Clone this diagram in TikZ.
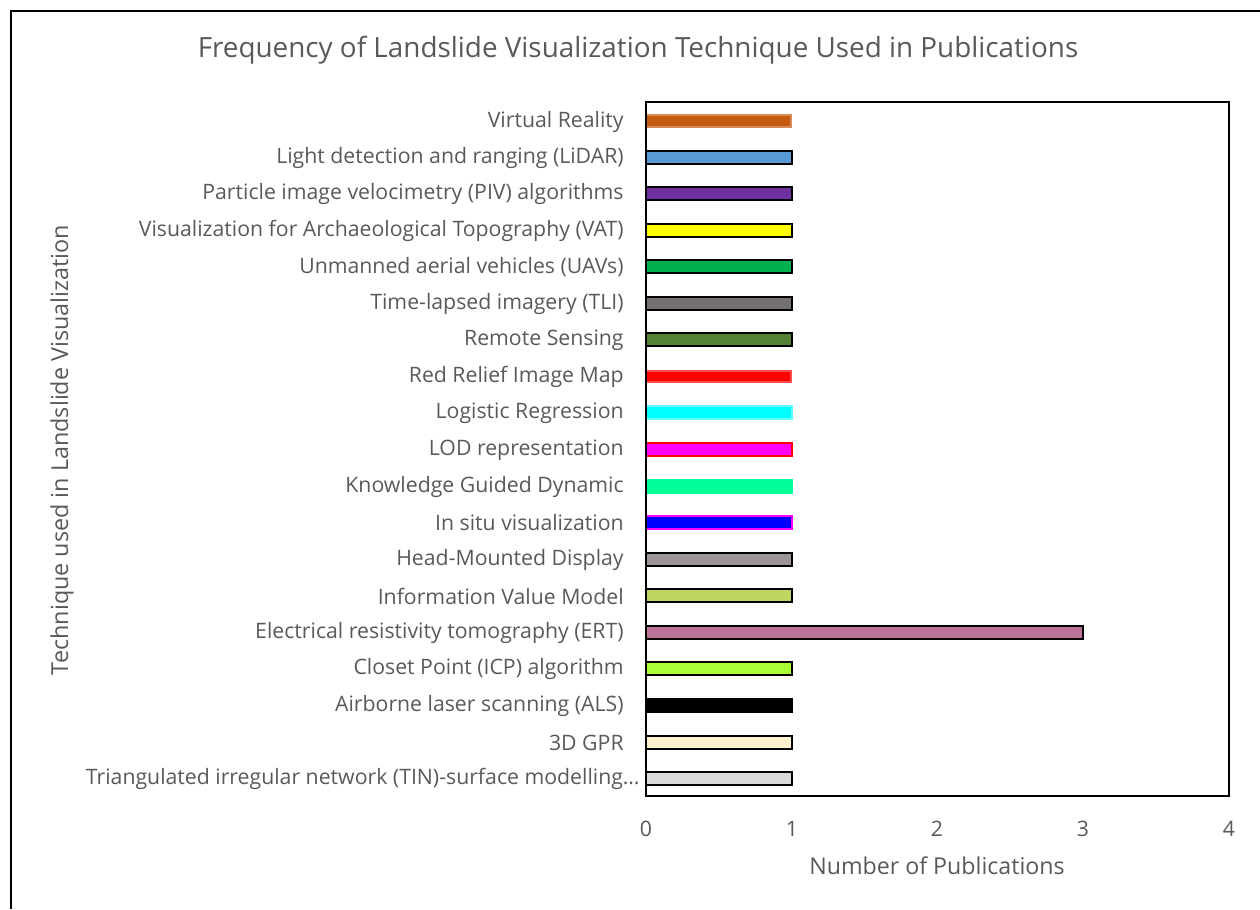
\documentclass[tikz,border=0pt]{standalone}
\usepackage{fontspec}
\setmainfont{Open Sans}
\usepackage{xcolor}
\usepackage{tikz}

\definecolor{txtgray}{HTML}{595959}
\definecolor{vrorange}{HTML}{C55A11}
\definecolor{lidarblue}{HTML}{5B9BD5}
\definecolor{pivpurple}{HTML}{7030A0}
\definecolor{vatyellow}{HTML}{FFFF00}
\definecolor{uavgreen}{HTML}{00B050}
\definecolor{tligray}{HTML}{767171}
\definecolor{rsgreen}{HTML}{548235}
\definecolor{rrimred}{HTML}{FF0000}
\definecolor{lrcyan}{HTML}{00FFFF}
\definecolor{lodmagenta}{HTML}{FF00FF}
\definecolor{kgdgreen}{HTML}{00FF99}
\definecolor{insitublue}{HTML}{0000FF}
\definecolor{hmdgray}{HTML}{9E9696}
\definecolor{ivmgreen}{HTML}{BED760}
\definecolor{ertpink}{HTML}{BC7399}
\definecolor{icplime}{HTML}{A8FF35}
\definecolor{gprcream}{HTML}{FFF2CC}
\definecolor{tingray}{HTML}{D9D9D9}

\begin{document}
\begin{tikzpicture}[x={(0.02cm,0)}, y={(0,-0.02cm)},
		lab/.style={anchor=east, text=txtgray, font=\fontsize{12.1}{14}\selectfont, inner sep=0pt},
		tick/.style={text=txtgray, font=\fontsize{12.1}{14}\selectfont, inner sep=0pt},
		bar/.style={line width=1.1pt}]
		\useasboundingbox (0,0) rectangle (1260,909);
		% outer frame, cut at the right and bottom
		\draw[line width=1.1pt] (11,909) -- (11,11) -- (1260,11);
		\node[text=txtgray, font=\fontsize{15.85}{19}\selectfont] (title) at (638,50) {Frequency of Landslide Visualization Technique Used in Publications};
		
		% bars, top to bottom
		\node[lab] (vr) at (624,122) {Virtual Reality};
		\filldraw[bar, fill=vrorange, draw=vrorange!70] (646,115) rectangle (791,127);
		\node[lab] (lidar) at (624,158) {Light detection and ranging (LiDAR)};
		\filldraw[bar, fill=lidarblue] (646,151) rectangle (792,164);
		\node[lab] (piv) at (624,194) {Particle image velocimetry (PIV) algorithms};
		\filldraw[bar, fill=pivpurple] (646,187) rectangle (792,200);
		\node[lab] (vat) at (624,231) {Visualization for Archaeological Topography (VAT)};
		\filldraw[bar, fill=vatyellow] (646,224) rectangle (792,237);
		\node[lab] (uav) at (624,267) {Unmanned aerial vehicles (UAVs)};
		\filldraw[bar, fill=uavgreen] (646,260) rectangle (792,273);
		\node[lab] (tli) at (624,304) {Time-lapsed imagery (TLI)};
		\filldraw[bar, fill=tligray] (646,297) rectangle (792,310);
		\node[lab] (rs) at (624,340) {Remote Sensing};
		\filldraw[bar, fill=rsgreen] (646,333) rectangle (792,346);
		\node[lab] (rrim) at (624,377) {Red Relief Image Map};
		\filldraw[bar, fill=rrimred, draw=rrimred!70] (646,371) rectangle (791,382);
		\node[lab] (lr) at (624,413) {Logistic Regression};
		\filldraw[bar, fill=lrcyan, draw=lrcyan!60] (646,406) rectangle (792,419);
		\node[lab] (lod) at (624,450) {LOD representation};
		\filldraw[bar, fill=lodmagenta, draw=rrimred] (646,443) rectangle (792,456);
		\node[lab] (kgd) at (624,487) {Knowledge Guided Dynamic};
		\filldraw[bar, fill=kgdgreen, draw=kgdgreen] (646,480) rectangle (792,493);
		\node[lab] (insitu) at (624,523) {In situ visualization};
		\filldraw[bar, fill=insitublue, draw=lodmagenta] (646,516) rectangle (792,529);
		\node[lab] (hmd) at (624,560) {Head-Mounted Display};
		\filldraw[bar, fill=hmdgray] (646,553) rectangle (792,566);
		\node[lab] (ivm) at (624,596) {Information Value Model};
		\filldraw[bar, fill=ivmgreen] (646,589) rectangle (792,602);
		\node[lab] (ert) at (624,633) {Electrical resistivity tomography (ERT)};
		\filldraw[bar, fill=ertpink] (646,626) rectangle (1083,639);
		\node[lab] (icp) at (624,669) {Closet Point (ICP) algorithm};
		\filldraw[bar, fill=icplime] (646,662) rectangle (792,675);
		\node[lab] (als) at (624,706) {Airborne laser scanning (ALS)};
		\filldraw[bar, fill=black] (646,699) rectangle (792,712);
		\node[lab] (gpr) at (624,743) {3D GPR\ };
		\filldraw[bar, fill=gprcream] (646,736) rectangle (792,749);
		\node[lab] (tin) at (640,779) {Triangulated irregular network (TIN)-surface modelling…};
		\filldraw[bar, fill=tingray] (646,772) rectangle (792,785);
		
		% plot area
		\draw[line width=1.1pt] (646,102) rectangle (1229,796);
		\node[tick] (t0) at (646,829) {0};
		\node[tick] (t1) at (792,829) {1};
		\node[tick] (t2) at (937,829) {2};
		\node[tick] (t3) at (1083,829) {3};
		\node[tick] (t4) at (1229,829) {4};
		\node[text=txtgray, font=\fontsize{13.2}{16}\selectfont] (xtitle) at (937,866) {Number of Publications};
		\node[text=txtgray, font=\fontsize{13.3}{16}\selectfont, rotate=90] (ytitle) at (62,450) {Technique used in Landslide Visualization};
\end{tikzpicture}
\end{document}
